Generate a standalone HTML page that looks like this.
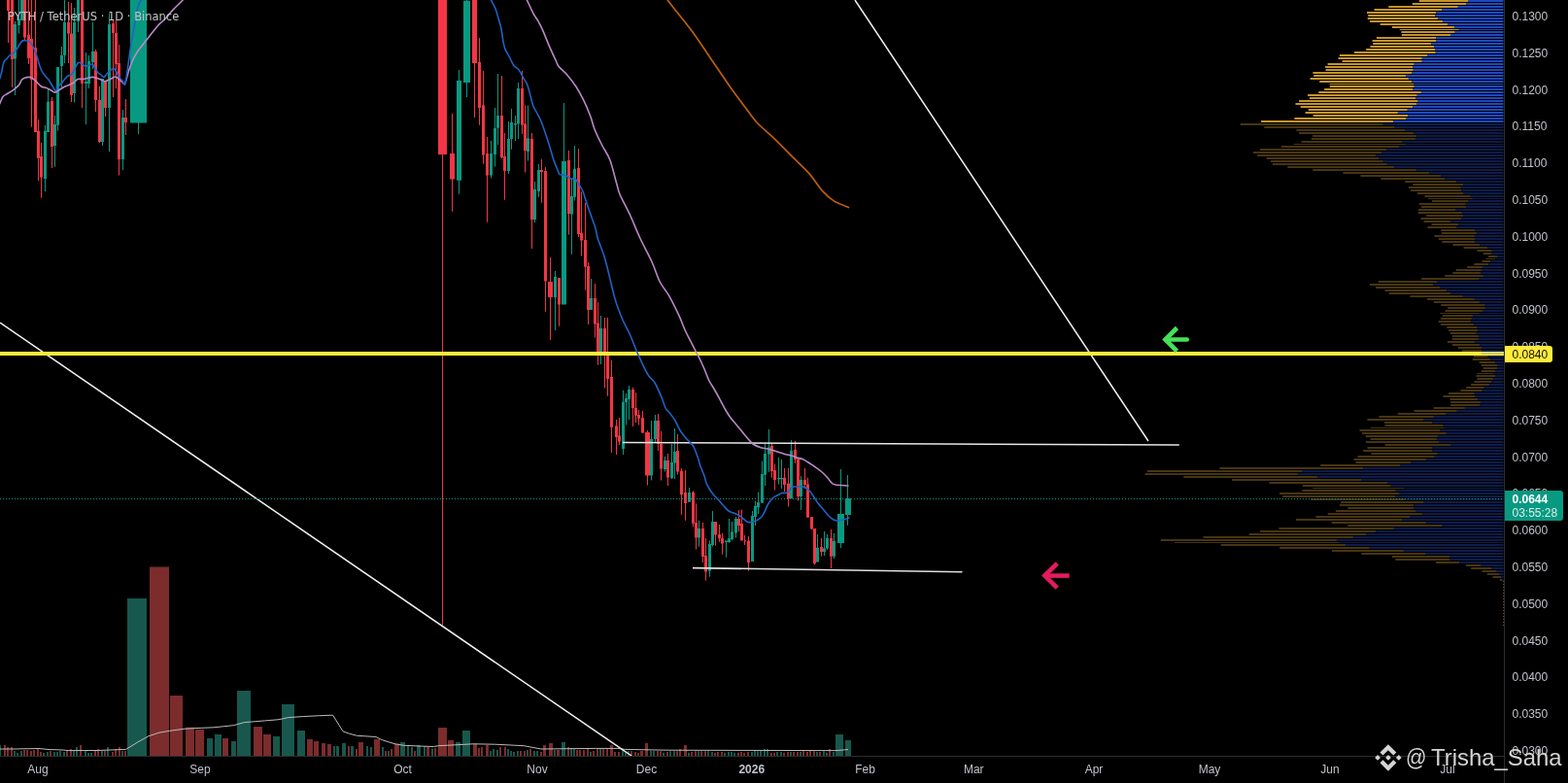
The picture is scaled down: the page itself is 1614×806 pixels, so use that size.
<!DOCTYPE html>
<html><head><meta charset="utf-8"><title>PYTH / TetherUS chart</title>
<style>
html,body{margin:0;padding:0;background:#000;}
body{width:1614px;height:806px;overflow:hidden;position:relative;font-family:"Liberation Sans",Arial,sans-serif;}
svg.chart{position:absolute;left:0;top:0;display:block;}
.title{position:absolute;left:8px;top:9px;font-family:"DejaVu Sans","Liberation Sans",sans-serif;font-size:11.5px;line-height:16px;color:#c4c4c8;white-space:nowrap;}
.pl{position:absolute;left:1556.5px;font-size:12px;line-height:14px;color:#c0c3ca;white-space:nowrap;}
.yl{position:absolute;left:1548.5px;top:356.3px;width:49px;height:16.6px;background:#ffeb3b;border-radius:0 3px 3px 0;color:#111;font-size:12px;line-height:18px;text-indent:8px;}
.gl{position:absolute;left:1548.5px;top:505px;width:60.5px;height:30.7px;background:#089981;border-radius:0 3px 3px 0;color:#fff;}
.g1{position:absolute;left:8px;top:2px;font-size:12px;line-height:14px;font-weight:bold;}
.g2{position:absolute;left:8px;top:16px;font-size:12px;line-height:14px;color:#d8efe9;}
.tl{position:absolute;top:784.5px;width:60px;text-align:center;font-size:12px;line-height:14px;color:#c0c3ca;}
.tl.b{font-weight:bold;font-size:12px;}
.logo{position:absolute;left:1414px;top:765px;}
.wat{position:absolute;left:1447px;top:766px;font-size:23px;line-height:28px;color:#d4d4d4;transform:scaleX(0.92);transform-origin:0 0;}
.wt{position:absolute;left:1472.5px;top:766px;font-size:24px;line-height:28px;color:#d4d4d4;white-space:nowrap;transform:scaleX(0.995);transform-origin:0 0;}
</style></head>
<body>
<svg class="chart" width="1614" height="806" viewBox="0 0 1614 806" shape-rendering="auto">
<path d="M1460.8 0H1511.6v2H1460.8zM1453.8 3H1509.4v2H1453.8zM1429.3 6H1500.8v2H1429.3zM1414.5 9H1484.4v2H1414.5zM1407 12H1478.4v2H1407zM1408.2 15H1477.4v2H1408.2zM1407.7 18H1480v2H1407.7zM1410.1 21H1485.1v2H1410.1zM1420.7 24H1490.1v2H1420.7zM1432.8 27H1497.1v2H1432.8zM1440.8 30H1501.8v1H1440.8zM1442.4 32H1497.7v2H1442.4zM1442.8 35H1493v2H1442.8zM1416.9 38H1478.3v2H1416.9zM1412.6 41H1478.5v2H1412.6zM1413.2 44H1473.3v2H1413.2zM1410.5 47H1476.1v2H1410.5zM1406.2 50H1477v2H1406.2zM1394 53H1477.8v2H1394zM1378.9 56H1469.6v2H1378.9zM1377.5 59H1463.8v2H1377.5zM1381.6 62H1463.8v2H1381.6zM1366.6 65H1455.7v2H1366.6zM1364.1 68H1454.5v2H1364.1zM1364.6 71H1454.8v2H1364.6zM1351.4 74H1453.5v2H1351.4zM1352.2 77H1447.2v2H1352.2zM1348.6 80H1449.9v2H1348.6zM1358.3 83H1453.4v2H1358.3zM1368.6 86H1455.6v1H1368.6zM1368.9 88H1455.8v2H1368.9zM1363.2 91H1454.5v2H1363.2zM1357.3 94H1462.9v2H1357.3zM1346.1 97H1458.8v2H1346.1zM1347.9 100H1457.5v2H1347.9zM1337.1 103H1459.6v2H1337.1zM1333.5 106H1458v2H1333.5zM1338.7 109H1454.2v2H1338.7zM1346.7 112H1448.8v2H1346.7zM1343.6 115H1438.9v2H1343.6zM1351.7 118H1449.4v2H1351.7zM1332.4 121H1447.6v2H1332.4zM1298.1 124H1434.4v2H1298.1z" fill="#c4942b"/>
<path d="M1511.6 0H1547.5v2H1511.6zM1509.4 3H1547.5v2H1509.4zM1500.8 6H1547.5v2H1500.8zM1484.4 9H1547.5v2H1484.4zM1478.4 12H1547.5v2H1478.4zM1477.4 15H1547.5v2H1477.4zM1480 18H1547.5v2H1480zM1485.1 21H1547.5v2H1485.1zM1490.1 24H1547.5v2H1490.1zM1497.1 27H1547.5v2H1497.1zM1501.8 30H1547.5v1H1501.8zM1497.7 32H1547.5v2H1497.7zM1493 35H1547.5v2H1493zM1478.3 38H1547.5v2H1478.3zM1478.5 41H1547.5v2H1478.5zM1473.3 44H1547.5v2H1473.3zM1476.1 47H1547.5v2H1476.1zM1477 50H1547.5v2H1477zM1477.8 53H1547.5v2H1477.8zM1469.6 56H1547.5v2H1469.6zM1463.8 59H1547.5v2H1463.8zM1463.8 62H1547.5v2H1463.8zM1455.7 65H1547.5v2H1455.7zM1454.5 68H1547.5v2H1454.5zM1454.8 71H1547.5v2H1454.8zM1453.5 74H1547.5v2H1453.5zM1447.2 77H1547.5v2H1447.2zM1449.9 80H1547.5v2H1449.9zM1453.4 83H1547.5v2H1453.4zM1455.6 86H1547.5v1H1455.6zM1455.8 88H1547.5v2H1455.8zM1454.5 91H1547.5v2H1454.5zM1462.9 94H1547.5v2H1462.9zM1458.8 97H1547.5v2H1458.8zM1457.5 100H1547.5v2H1457.5zM1459.6 103H1547.5v2H1459.6zM1458 106H1547.5v2H1458zM1454.2 109H1547.5v2H1454.2zM1448.8 112H1547.5v2H1448.8zM1438.9 115H1547.5v2H1438.9zM1449.4 118H1547.5v2H1449.4zM1447.6 121H1547.5v2H1447.6zM1434.4 124H1547.5v2H1434.4z" fill="#1e48c0"/>
<path d="M1276.8 127H1423.8v2H1276.8zM1301.2 130H1435.7v2H1301.2zM1334.4 133H1446v2H1334.4zM1337.1 136H1455.2v2H1337.1zM1351.1 139H1458.4v2H1351.1zM1349.9 142H1456.9v2H1349.9zM1339.6 145H1443.5v2H1339.6zM1331.6 148H1447.5v1H1331.6zM1319 150H1440.6v2H1319zM1297 153H1427.5v2H1297zM1290 156H1422v2H1290zM1294.2 159H1416.5v2H1294.2zM1303.7 162H1419.7v2H1303.7zM1308 165H1423.8v2H1308zM1309.9 168H1427.8v2H1309.9zM1325.4 171H1435.1v2H1325.4zM1351.2 174H1457.9v2H1351.2zM1382.4 177H1471.2v2H1382.4zM1400.4 180H1483.4v2H1400.4zM1421.5 183H1487.2v2H1421.5zM1446.3 186H1499.3v2H1446.3zM1454.3 189H1506.5v2H1454.3zM1449.9 192H1503.8v2H1449.9zM1451.9 195H1504v2H1451.9zM1458.9 198H1506.6v2H1458.9zM1466.4 201H1513.8v2H1466.4zM1469.9 204H1516.2v1H1469.9zM1474 206H1511v2H1474zM1460.8 209H1508.8v2H1460.8zM1463 212H1509.4v2H1463zM1460 215H1498v2H1460zM1459.9 218H1504.9v2H1459.9zM1468.2 221H1506.5v2H1468.2zM1462.4 224H1504v2H1462.4zM1465.6 227H1493.6v2H1465.6zM1473.5 230H1501.5v2H1473.5zM1469.4 233H1499v2H1469.4zM1483.1 236H1518v2H1483.1zM1483.8 239H1520.2v2H1483.8zM1476.5 242H1517.9v2H1476.5zM1480.8 245H1518.6v2H1480.8zM1484.4 248H1518v2H1484.4zM1495.5 251H1523.2v2H1495.5zM1506.6 254H1531.2v2H1506.6zM1520.6 257H1535.8v2H1520.6zM1526.7 260H1535v2H1526.7zM1531.9 263H1541v2H1531.9zM1529.5 266H1539.2v1H1529.5zM1525.5 268H1534.4v2H1525.5zM1517.4 271H1532.2v2H1517.4zM1510.3 274H1525.9v2H1510.3zM1498.7 277H1524.9v2H1498.7zM1495.2 280H1524.4v2H1495.2zM1487.2 283H1526.9v2H1487.2zM1463.1 286H1522.7v2H1463.1zM1418.8 289H1479v2H1418.8zM1410 292H1475.4v2H1410zM1416 295H1482.5v2H1416zM1425.6 298H1489.3v2H1425.6zM1430 301H1493.2v2H1430zM1451.5 304H1505.8v2H1451.5zM1469.2 307H1517.8v2H1469.2zM1475.9 310H1523.2v2H1475.9zM1483.2 313H1528.7v2H1483.2zM1490.1 316H1528.9v2H1490.1zM1487.6 319H1526.1v2H1487.6zM1482.3 322H1522.6v1H1482.3zM1484.8 324H1516.6v2H1484.8zM1482.8 327H1514.9v2H1482.8zM1480.7 330H1514.3v2H1480.7zM1482.9 333H1517.1v2H1482.9zM1489.2 336H1520.7v2H1489.2zM1491.1 339H1521.2v2H1491.1zM1492.8 342H1519.9v2H1492.8zM1494.8 345H1522.6v2H1494.8zM1494.7 348H1521.9v2H1494.7zM1489.9 351H1517.9v2H1489.9zM1495 354H1523.2v2H1495zM1500.8 357H1525.5v2H1500.8zM1504.9 360H1525.4v2H1504.9zM1511 363H1528.5v2H1511zM1516.7 366H1531.8v2H1516.7zM1515.8 369H1534.2v2H1515.8zM1522.7 372H1539.5v2H1522.7zM1524.7 375H1541.7v2H1524.7zM1526.7 378H1541v2H1526.7zM1524.8 381H1539.4v2H1524.8zM1520.3 384H1537.8v1H1520.3zM1519.6 386H1539v2H1519.6zM1520.4 389H1537.2v2H1520.4zM1517.4 392H1535.4v2H1517.4zM1514.1 395H1533.2v2H1514.1zM1509.3 398H1527.7v2H1509.3zM1503.4 401H1525.7v2H1503.4zM1491.1 404H1517.8v2H1491.1zM1485.5 407H1518v2H1485.5zM1492.6 410H1521.1v2H1492.6zM1493.1 413H1524.6v2H1493.1zM1493.1 416H1523.6v2H1493.1zM1475.5 419H1507.9v2H1475.5zM1455.6 422H1499.8v2H1455.6zM1438.7 425H1488.8v2H1438.7zM1419.3 428H1475.9v2H1419.3zM1407.4 431H1465.7v2H1407.4zM1424.9 434H1474.5v2H1424.9zM1425.5 437H1485.8v2H1425.5zM1410.8 440H1486.7v1H1410.8zM1399.5 442H1482.6v2H1399.5zM1402 445H1488.8v2H1402zM1405.7 448H1480v2H1405.7zM1410.6 451H1478.9v2H1410.6zM1405.9 454H1481v2H1405.9zM1425.5 457H1493.6v2H1425.5zM1407.6 460H1474v2H1407.6zM1403.1 463H1474.6v2H1403.1zM1411.5 466H1479.8v2H1411.5zM1397.5 469H1476.8v2H1397.5zM1393.5 472H1468.3v2H1393.5zM1395.5 475H1452v2H1395.5zM1359.2 478H1441.1v2H1359.2zM1255.4 481H1403.4v2H1255.4zM1181.1 484H1340v2H1181.1zM1178.6 487H1335.8v2H1178.6zM1218.3 490H1356.4v2H1218.3zM1268.1 493H1401.1v2H1268.1zM1306.5 496H1428.2v2H1306.5zM1340.8 499H1431.7v2H1340.8zM1351 502H1445.4v1H1351zM1340.4 504H1436.8v2H1340.4zM1317.1 507H1440.8v2H1317.1zM1320.3 510H1436.2v2H1320.3zM1349.2 513H1446.1v2H1349.2zM1380.2 516H1465.6v2H1380.2zM1378.9 519H1455.4v2H1378.9zM1387.3 522H1455.2v2H1387.3zM1374.9 525H1457.5v2H1374.9zM1366.7 528H1464.3v2H1366.7zM1354.4 531H1451v2H1354.4zM1333.9 534H1443.4v2H1333.9zM1370.7 537H1468.2v2H1370.7zM1387.3 540H1484v2H1387.3zM1316.4 543H1434.8v2H1316.4zM1297.1 546H1416.2v2H1297.1zM1285.7 549H1406v2H1285.7zM1238.6 552H1393.4v2H1238.6zM1194.7 555H1375.9v2H1194.7zM1209.1 558H1378v1H1209.1zM1256.7 560H1385v2H1256.7zM1317.1 563H1409.8v2H1317.1zM1370.9 566H1445.4v2H1370.9zM1401.4 569H1467.7v2H1401.4zM1432.9 572H1492.5v2H1432.9zM1436.3 575H1492.5v2H1436.3zM1478 578H1502.4v2H1478zM1508.9 581H1524.5v2H1508.9zM1514.1 584H1535.5v2H1514.1zM1525.7 587H1540.7v2H1525.7zM1530.7 590H1543v2H1530.7zM1536.4 593H1545.2v2H1536.4zM1544 596H1546.7v2H1544z" fill="#473511"/>
<path d="M1423.8 127H1547.5v2H1423.8zM1435.7 130H1547.5v2H1435.7zM1446 133H1547.5v2H1446zM1455.2 136H1547.5v2H1455.2zM1458.4 139H1547.5v2H1458.4zM1456.9 142H1547.5v2H1456.9zM1443.5 145H1547.5v2H1443.5zM1447.5 148H1547.5v1H1447.5zM1440.6 150H1547.5v2H1440.6zM1427.5 153H1547.5v2H1427.5zM1422 156H1547.5v2H1422zM1416.5 159H1547.5v2H1416.5zM1419.7 162H1547.5v2H1419.7zM1423.8 165H1547.5v2H1423.8zM1427.8 168H1547.5v2H1427.8zM1435.1 171H1547.5v2H1435.1zM1457.9 174H1547.5v2H1457.9zM1471.2 177H1547.5v2H1471.2zM1483.4 180H1547.5v2H1483.4zM1487.2 183H1547.5v2H1487.2zM1499.3 186H1547.5v2H1499.3zM1506.5 189H1547.5v2H1506.5zM1503.8 192H1547.5v2H1503.8zM1504 195H1547.5v2H1504zM1506.6 198H1547.5v2H1506.6zM1513.8 201H1547.5v2H1513.8zM1516.2 204H1547.5v1H1516.2zM1511 206H1547.5v2H1511zM1508.8 209H1547.5v2H1508.8zM1509.4 212H1547.5v2H1509.4zM1498 215H1547.5v2H1498zM1504.9 218H1547.5v2H1504.9zM1506.5 221H1547.5v2H1506.5zM1504 224H1547.5v2H1504zM1493.6 227H1547.5v2H1493.6zM1501.5 230H1547.5v2H1501.5zM1499 233H1547.5v2H1499zM1518 236H1547.5v2H1518zM1520.2 239H1547.5v2H1520.2zM1517.9 242H1547.5v2H1517.9zM1518.6 245H1547.5v2H1518.6zM1518 248H1547.5v2H1518zM1523.2 251H1547.5v2H1523.2zM1531.2 254H1547.5v2H1531.2zM1535.8 257H1547.5v2H1535.8zM1535 260H1547.5v2H1535zM1541 263H1547.5v2H1541zM1539.2 266H1547.5v1H1539.2zM1534.4 268H1547.5v2H1534.4zM1532.2 271H1547.5v2H1532.2zM1525.9 274H1547.5v2H1525.9zM1524.9 277H1547.5v2H1524.9zM1524.4 280H1547.5v2H1524.4zM1526.9 283H1547.5v2H1526.9zM1522.7 286H1547.5v2H1522.7zM1479 289H1547.5v2H1479zM1475.4 292H1547.5v2H1475.4zM1482.5 295H1547.5v2H1482.5zM1489.3 298H1547.5v2H1489.3zM1493.2 301H1547.5v2H1493.2zM1505.8 304H1547.5v2H1505.8zM1517.8 307H1547.5v2H1517.8zM1523.2 310H1547.5v2H1523.2zM1528.7 313H1547.5v2H1528.7zM1528.9 316H1547.5v2H1528.9zM1526.1 319H1547.5v2H1526.1zM1522.6 322H1547.5v1H1522.6zM1516.6 324H1547.5v2H1516.6zM1514.9 327H1547.5v2H1514.9zM1514.3 330H1547.5v2H1514.3zM1517.1 333H1547.5v2H1517.1zM1520.7 336H1547.5v2H1520.7zM1521.2 339H1547.5v2H1521.2zM1519.9 342H1547.5v2H1519.9zM1522.6 345H1547.5v2H1522.6zM1521.9 348H1547.5v2H1521.9zM1517.9 351H1547.5v2H1517.9zM1523.2 354H1547.5v2H1523.2zM1525.5 357H1547.5v2H1525.5zM1525.4 360H1547.5v2H1525.4zM1528.5 363H1547.5v2H1528.5zM1531.8 366H1547.5v2H1531.8zM1534.2 369H1547.5v2H1534.2zM1539.5 372H1547.5v2H1539.5zM1541.7 375H1547.5v2H1541.7zM1541 378H1547.5v2H1541zM1539.4 381H1547.5v2H1539.4zM1537.8 384H1547.5v1H1537.8zM1539 386H1547.5v2H1539zM1537.2 389H1547.5v2H1537.2zM1535.4 392H1547.5v2H1535.4zM1533.2 395H1547.5v2H1533.2zM1527.7 398H1547.5v2H1527.7zM1525.7 401H1547.5v2H1525.7zM1517.8 404H1547.5v2H1517.8zM1518 407H1547.5v2H1518zM1521.1 410H1547.5v2H1521.1zM1524.6 413H1547.5v2H1524.6zM1523.6 416H1547.5v2H1523.6zM1507.9 419H1547.5v2H1507.9zM1499.8 422H1547.5v2H1499.8zM1488.8 425H1547.5v2H1488.8zM1475.9 428H1547.5v2H1475.9zM1465.7 431H1547.5v2H1465.7zM1474.5 434H1547.5v2H1474.5zM1485.8 437H1547.5v2H1485.8zM1486.7 440H1547.5v1H1486.7zM1482.6 442H1547.5v2H1482.6zM1488.8 445H1547.5v2H1488.8zM1480 448H1547.5v2H1480zM1478.9 451H1547.5v2H1478.9zM1481 454H1547.5v2H1481zM1493.6 457H1547.5v2H1493.6zM1474 460H1547.5v2H1474zM1474.6 463H1547.5v2H1474.6zM1479.8 466H1547.5v2H1479.8zM1476.8 469H1547.5v2H1476.8zM1468.3 472H1547.5v2H1468.3zM1452 475H1547.5v2H1452zM1441.1 478H1547.5v2H1441.1zM1403.4 481H1547.5v2H1403.4zM1340 484H1547.5v2H1340zM1335.8 487H1547.5v2H1335.8zM1356.4 490H1547.5v2H1356.4zM1401.1 493H1547.5v2H1401.1zM1428.2 496H1547.5v2H1428.2zM1431.7 499H1547.5v2H1431.7zM1445.4 502H1547.5v1H1445.4zM1436.8 504H1547.5v2H1436.8zM1440.8 507H1547.5v2H1440.8zM1436.2 510H1547.5v2H1436.2zM1446.1 513H1547.5v2H1446.1zM1465.6 516H1547.5v2H1465.6zM1455.4 519H1547.5v2H1455.4zM1455.2 522H1547.5v2H1455.2zM1457.5 525H1547.5v2H1457.5zM1464.3 528H1547.5v2H1464.3zM1451 531H1547.5v2H1451zM1443.4 534H1547.5v2H1443.4zM1468.2 537H1547.5v2H1468.2zM1484 540H1547.5v2H1484zM1434.8 543H1547.5v2H1434.8zM1416.2 546H1547.5v2H1416.2zM1406 549H1547.5v2H1406zM1393.4 552H1547.5v2H1393.4zM1375.9 555H1547.5v2H1375.9zM1378 558H1547.5v1H1378zM1385 560H1547.5v2H1385zM1409.8 563H1547.5v2H1409.8zM1445.4 566H1547.5v2H1445.4zM1467.7 569H1547.5v2H1467.7zM1492.5 572H1547.5v2H1492.5zM1492.5 575H1547.5v2H1492.5zM1502.4 578H1547.5v2H1502.4zM1524.5 581H1547.5v2H1524.5zM1535.5 584H1547.5v2H1535.5zM1540.7 587H1547.5v2H1540.7zM1543 590H1547.5v2H1543zM1545.2 593H1547.5v2H1545.2zM1546.7 596H1547.5v2H1546.7z" fill="#0d1c4a"/>
<path d="M-1 767h2V778h-2zM14 773h2V778h-2zM17 775h2V778h-2zM21 773h2V778h-2zM44 775h2V778h-2zM48 774h2V778h-2zM55 774h2V778h-2zM58 774h2V778h-2zM61 773h2V778h-2zM65 774h2V778h-2zM75 773h2V778h-2zM78 769h2V778h-2zM87 773h2V778h-2zM90 775h2V778h-2zM93 775h2V778h-2zM104 773h2V778h-2zM110 769h2V778h-2zM125 773h2V778h-2zM131 615.9h20V778h-20zM213 760h6V778h-6zM221 756h7V778h-7zM238 763h5V778h-5zM244 711h14V778h-14zM281 758h7V778h-7zM290 725h13V778h-13zM306 752h8V778h-8zM343 768h2V778h-2zM346 768h3V778h-3zM352 765h4V778h-4zM361 768h3V778h-3zM377 768h2V778h-2zM381 769h2V778h-2zM393 769h2V778h-2zM399 773h2V778h-2zM412 764h5V778h-5zM419 768h2V778h-2zM423 769h2V778h-2zM429 767h4V778h-4zM436 768h2V778h-2zM444 770.5h2V778h-2zM469 764h5V778h-5zM476 752h8V778h-8zM504 773h2V778h-2zM507 771h2V778h-2zM511 772h2V778h-2zM522 771h2V778h-2zM525 773h2V778h-2zM528 774h2V778h-2zM532 773h2V778h-2zM542 772h2V778h-2zM549 773h2V778h-2zM552 773h2V778h-2zM570 772h2V778h-2zM578 764h4V778h-4zM587 770h2V778h-2zM590 771h2V778h-2zM607 774h2V778h-2zM617 771h2V778h-2zM640 771h2V778h-2zM643 774h2V778h-2zM646 773h2V778h-2zM669 773h2V778h-2zM672 773h2V778h-2zM682 774.8h2V778h-2zM689 773.2h2V778h-2zM693 773.2h2V778h-2zM708 774.8h2V778h-2zM718 773.2h2V778h-2zM728 773.2h2V778h-2zM732 774.1h2V778h-2zM745 774.8h2V778h-2zM749 774.1h2V778h-2zM752 774.1h2V778h-2zM755 774.8h2V778h-2zM773 774.1h2V778h-2zM776 772.1h2V778h-2zM779 773.2h2V778h-2zM782 772.1h2V778h-2zM786 771.1h2V778h-2zM789 771.1h2V778h-2zM799 774.1h2V778h-2zM803 774.1h2V778h-2zM813 774.1h2V778h-2zM823 774.1h2V778h-2zM840 774.1h2V778h-2zM847 773.2h2V778h-2zM850 774.8h2V778h-2zM857 774.1h2V778h-2zM860 756h8V778h-8zM870 762h6V778h-6z" fill="#18574d"/>
<path d="M4 767h2V778h-2zM7 769h2V778h-2zM11 769h2V778h-2zM24 772h2V778h-2zM27 772h2V778h-2zM31 773h2V778h-2zM34 772h2V778h-2zM38 771h2V778h-2zM41 774h2V778h-2zM51 773h2V778h-2zM68 773h2V778h-2zM72 771h2V778h-2zM82 767h2V778h-2zM97 772h2V778h-2zM100 771h2V778h-2zM107 773h2V778h-2zM115 774h2V778h-2zM118 771h2V778h-2zM122 769h2V778h-2zM128 773h2V778h-2zM154 583.6h20V778h-20zM175 716h13V778h-13zM191 748.8h9V778h-9zM201 750.7h9V778h-9zM229 760h6V778h-6zM261 748h9V778h-9zM271 756h8V778h-8zM316 760.9h6V778h-6zM323 763h5V778h-5zM331 765h4V778h-4zM337 766h4V778h-4zM358 768h2V778h-2zM366 771h2V778h-2zM369 764h5V778h-5zM385 761h6V778h-6zM396 773h2V778h-2zM402 771h2V778h-2zM406 765.7h5V778h-5zM426 773h2V778h-2zM439 769h3V778h-3zM447 770h2V778h-2zM451 749.1h9V778h-9zM461 762h6V778h-6zM487 765.5h4V778h-4zM492 770h2V778h-2zM495 769h2V778h-2zM500 767h3V778h-3zM514 769h2V778h-2zM519 769h2V778h-2zM535 773h2V778h-2zM539 773h2V778h-2zM545 771h2V778h-2zM556 774h2V778h-2zM559 767h3V778h-3zM565 765h4V778h-4zM573 772h3V778h-3zM584 769h2V778h-2zM593 772h2V778h-2zM596 772h2V778h-2zM600 772h2V778h-2zM604 771h2V778h-2zM610 773h2V778h-2zM614 771h2V778h-2zM620 771h2V778h-2zM624 771h2V778h-2zM628 767h3V778h-3zM632 774h2V778h-2zM636 774h2V778h-2zM649 773h2V778h-2zM653 774h2V778h-2zM656 775h2V778h-2zM659 773h3V778h-3zM664 765h3V778h-3zM676 773h2V778h-2zM679 773.2h2V778h-2zM686 774.1h2V778h-2zM696 773.2h2V778h-2zM699 771.1h2V778h-2zM704 767h3V778h-3zM711 774.1h2V778h-2zM715 773.2h2V778h-2zM721 773.2h2V778h-2zM725 773.2h2V778h-2zM735 774.8h2V778h-2zM738 774.1h2V778h-2zM742 774.1h2V778h-2zM759 774.8h2V778h-2zM762 774.1h2V778h-2zM765 774.8h2V778h-2zM769 774.1h2V778h-2zM793 774.8h2V778h-2zM796 774.8h2V778h-2zM806 774.8h2V778h-2zM810 774.1h2V778h-2zM816 774.1h2V778h-2zM820 774.1h2V778h-2zM826 773.2h2V778h-2zM830 774.1h2V778h-2zM833 772.1h2V778h-2zM837 773.2h2V778h-2zM843 774.1h2V778h-2zM853 771.1h2V778h-2z" fill="#7c2c2c"/>
<polyline points="0,771 13,771 40,770.5 50,771.5 65,772 70,772.6 100,772.5 129.6,771.4 142,763.8 152.8,757.8 163.8,754.2 174.7,752.3 191,750.1 207.4,749.3 220,748.8 240.3,746.7 251.5,743.6 272.5,741.9 287,740.7 296.7,738.6 312.8,737.5 328.9,736.7 342.6,736.2 353,752.8 359.5,755.2 367.5,757.3 386.9,758.5 393.3,761.7 406.2,765.7 415.9,767.3 433.6,768.1 446.5,768.5 452,767.6 464.9,767 487.2,765.8 509.5,766.2 539.2,767.7 557,771 583.8,770.7 613.6,770.4 635.9,770.4 643.3,771.4 688,772.2 760,772.4 860,772.6 868,772 873,771.5" fill="none" stroke="#bcbcbc" stroke-width="1" stroke-linejoin="round"/>
<path d="M15 22h1V98h-1zM19 -5h1V34.5h-1zM22 -5h1V21h-1zM46 128.7h1V197h-1zM49 91h1V136h-1zM56 119h1V171.7h-1zM59 69h1V134.8h-1zM63 48h1V90h-1zM66 -5h1V65h-1zM76 8h1V105.5h-1zM80 -5h1V33h-1zM88 54h1V128h-1zM91 57h1V91h-1zM95 23h1V71h-1zM105 81h1V150h-1zM112 14h1V156h-1zM126 113h1V175h-1zM142 -5h1V138h-1zM472 72h1V199.8h-1zM480 -5h1V100h-1zM505 144.8h1V183.5h-1zM509 111h1V171.5h-1zM512 76h1V149h-1zM523 125h1V179h-1zM526 112h1V153.7h-1zM530 119h1V145h-1zM533 85h1V143h-1zM543 108.6h1V165.6h-1zM550 187h1V229h-1zM554 169h1V202.8h-1zM571 279h1V340h-1zM580 106h1V313.6h-1zM588 185h1V261.7h-1zM591 150h1V206.5h-1zM608 287h1V319h-1zM618 325h1V375h-1zM641 401.8h1V468h-1zM644 404.7h1V437.5h-1zM647 397h1V432h-1zM670 433h1V494.4h-1zM674 427h1V455.7h-1zM684 470h1V485.5h-1zM691 457h1V493h-1zM694 441h1V493h-1zM709 502h1V516.7h-1zM719 535.7h1V562.5h-1zM730 556.5h1V593.8h-1zM733 526h1V562.5h-1zM747 556.5h1V573.7h-1zM750 534h1V558.8h-1zM753 537h1V556.5h-1zM757 532h1V553.6h-1zM774 526h1V578h-1zM777 515.6h1V541h-1zM780 506.7h1V529h-1zM784 474.6h1V517.8h-1zM787 456.8h1V500h-1zM791 442h1V485.8h-1zM801 471h1V498.5h-1zM804 473h1V503h-1zM814 453h1V513.3h-1zM824 490h1V525h-1zM841 550h1V578.6h-1zM848 547h1V572h-1zM851 550h1V566h-1zM858 549h1V575h-1zM865 483h1V564h-1zM872 489h1V540.7h-1zM14 25h3v35.6h-3zM18 19.5h3v6.5h-3zM21 -5h3v26h-3zM45 134.8h3v49.2h-3zM48 104.8h3v31.2h-3zM55 128h3v22h-3zM58 69h3v59.7h-3zM62 57h3v11h-3zM65 23h3v34h-3zM75 23h3v73h-3zM79 -5h3v27h-3zM87 84h3v2h-3zM90 63h3v23h-3zM94 53h3v11h-3zM104 81h3v65h-3zM111 25h3v86h-3zM125 121h3v43h-3zM134 -5h17v131.6h-17zM470 83h5v102.7h-5zM477 0.7h7v84.3h-7zM504 158h3v22.5h-3zM508 132h3v27h-3zM511 119h3v12.7h-3zM522 143h3v33h-3zM525 126h3v17h-3zM529 127h3v1.5h-3zM532 91h3v36.6h-3zM542 142.5h3v13.5h-3zM549 195h3v31h-3zM553 175h3v22h-3zM570 285h3v21h-3zM578 166h5v147.6h-5zM587 202h3v18.6h-3zM590 173.8h3v29h-3zM607 307h3v12h-3zM617 338h3v26h-3zM640 413.7h3v48.3h-3zM643 410h3v4h-3zM646 401h3v9.7h-3zM669 452h3v37.6h-3zM673 433h3v19h-3zM683 474h3v9h-3zM690 476h3v16h-3zM693 465h3v11.5h-3zM708 507h3v9.7h-3zM718 544h3v9.6h-3zM729 560h3v27.8h-3zM732 537h3v24h-3zM746 556.5h3v1.5h-3zM749 554.3h3v3.7h-3zM752 547.6h3v7.4h-3zM756 534h3v14.4h-3zM773 531h3v47h-3zM776 520.8h3v11.2h-3zM779 517h3v5.3h-3zM783 488h3v29.8h-3zM786 467h3v21.8h-3zM790 460.5h3v7h-3zM800 492h3v1.2h-3zM803 492h3v1.2h-3zM813 464h3v49.3h-3zM823 494h3v17h-3zM840 563.8h3v14.8h-3zM847 564.5h3v3.5h-3zM850 554h3v10.5h-3zM857 557h3v15.7h-3zM862 529h7v30h-7zM870 513h6v17h-6z" fill="#089981"/>
<path d="M8 -5h1V44h-1zM12 -5h1V90h-1zM25 -5h1V42h-1zM29 -5h1V66h-1zM32 -5h1V130.7h-1zM36 -5h1V136h-1zM39 123h1V186h-1zM42 147h1V203.8h-1zM53 100h1V173h-1zM70 2h1V65h-1zM73 3h1V105h-1zM84 -5h1V111h-1zM98 51h1V115h-1zM102 89h1V147h-1zM108 83h1V120h-1zM116 20h1V100h-1zM119 21h1V91h-1zM122 46h1V180.5h-1zM129 102h1V139h-1zM455 -5h1V643.8h-1zM465 117h1V217.7h-1zM488 -5h1V121h-1zM493 39h1V128.7h-1zM497 73h1V168.6h-1zM501 141h1V228.8h-1zM516 78h1V163h-1zM519 137h1V205.8h-1zM537 73h1V138h-1zM540 108.6h1V177.5h-1zM547 137h1V256h-1zM557 164h1V208.8h-1zM561 172h1V320.8h-1zM566 265h1V350h-1zM575 286h1V335.7h-1zM585 155h1V241.6h-1zM595 153h1V244h-1zM598 197.6h1V263.5h-1zM602 208.8h1V298.8h-1zM605 270h1V334h-1zM612 292h1V347.6h-1zM615 311h1V375.7h-1zM622 327h1V399.5h-1zM625 327h1V407.7h-1zM629 371h1V466h-1zM634 432h1V468h-1zM637 430h1V458h-1zM651 398.8h1V439h-1zM654 404h1V435h-1zM657 421.8h1V437.5h-1zM661 423h1V446h-1zM666 443h1V499.6h-1zM677 426h1V464h-1zM680 443.8h1V494.4h-1zM687 467h1V500h-1zM697 447h1V488.5h-1zM701 482h1V530h-1zM705 484h1V535.7h-1zM713 505.5h1V542.4h-1zM716 518.6h1V565.5h-1zM723 538h1V579h-1zM726 554h1V597.5h-1zM736 537h1V561.8h-1zM740 540h1V558h-1zM743 549h1V570.7h-1zM760 525h1V547h-1zM763 524.5h1V556.5h-1zM766 551h1V561h-1zM770 552h1V587.8h-1zM794 456.8h1V491.8h-1zM797 477.6h1V504.4h-1zM807 482h1V506h-1zM811 481.8h1V521.5h-1zM818 453.8h1V476.9h-1zM821 472h1V515.6h-1zM828 482h1V503h-1zM831 491.8h1V532.7h-1zM835 532h1V545h-1zM838 544h1V581.6h-1zM845 554h1V572.7h-1zM855 545h1V585h-1zM7 -5h3v16h-3zM11 -5h3v66h-3zM24 -5h3v43.4h-3zM28 35.7h3v24.3h-3zM31 40h3v42.3h-3zM35 49h3v87h-3zM38 134.8h3v28h-3zM41 161h3v21.6h-3zM52 104h3v47h-3zM69 23h3v11.5h-3zM72 34.5h3v63.5h-3zM83 -5h3v91h-3zM97 53h3v50h-3zM101 103h3v43h-3zM107 83h3v28h-3zM115 24h3v10h-3zM118 34h3v32h-3zM121 65h3v99h-3zM128 121h3v5h-3zM451 -5h9v163.9h-9zM463 158h5v26.6h-5zM486 -5h5v70h-5zM492 64h3v47h-3zM496 108.6h3v51h-3zM500 158h3v22.5h-3zM515 119h3v43h-3zM518 161h3v15h-3zM536 91h3v37.4h-3zM539 127.6h3v27.4h-3zM546 143h3v83h-3zM556 175h3v2h-3zM560 176h3v113.5h-3zM564 290h5v16h-5zM574 286h3v27.6h-3zM584 165h3v55h-3zM594 173h3v68h-3zM597 239.7h3v7.9h-3zM601 247h3v27.6h-3zM604 274h3v45h-3zM611 307h3v26.4h-3zM614 332.7h3v31.3h-3zM621 338h3v26h-3zM624 362h3v28h-3zM628 388h3v51.7h-3zM633 438.5h3v11.5h-3zM636 448.6h3v6h-3zM650 401h3v19h-3zM653 420h3v7.8h-3zM656 427h3v3.8h-3zM660 430h3v15.5h-3zM664 445h5v44.6h-5zM676 433h3v24h-3zM679 457h3v25.5h-3zM686 474h3v17.4h-3zM696 464h3v21.5h-3zM700 484.7h3v24.3h-3zM704 507h3v10.9h-3zM712 506.7h3v32h-3zM715 538h3v15.6h-3zM722 544h3v29h-3zM725 572h3v16.5h-3zM735 537h3v13.6h-3zM739 550h3v4.3h-3zM742 554.3h3v5.2h-3zM759 534h3v7h-3zM762 539h3v17.5h-3zM766 556h2v1.2h-2zM769 556.5h3v22.4h-3zM793 459h3v26h-3zM796 484h3v10h-3zM806 491.8h3v7.2h-3zM810 497.7h3v15.6h-3zM817 463h3v10h-3zM820 472.4h3v38.6h-3zM827 494h3v5h-3zM830 498.5h3v34.2h-3zM834 532h3v12.4h-3zM837 544h3v36h-3zM844 563h3v5h-3zM854 554h3v18.7h-3z" fill="#f23645"/>
<line x1="0" y1="332.2" x2="650" y2="778" stroke="#f0f0f0" stroke-width="1.5"/>
<line x1="880" y1="0" x2="1182" y2="454" stroke="#f0f0f0" stroke-width="1.5"/>
<line x1="641" y1="455.5" x2="1213.8" y2="458.1" stroke="#e6e6e6" stroke-width="1.5"/>
<line x1="713" y1="584.6" x2="990.5" y2="588.7" stroke="#e0e0e0" stroke-width="1.6"/>
<line x1="0" y1="513.5" x2="1548" y2="513.5" stroke="#089981" stroke-width="1" stroke-dasharray="1,2"/>
<rect x="0" y="362" width="1548" height="4" fill="#ffeb3b"/>
<rect x="1525" y="363" width="23" height="2" fill="#c9c87c"/>
<path d="M-2 110C-1.7 109.4 -0.8 108 0 106.2C0.8 104.5 1.8 101.1 3 99.5C4.2 97.9 5.7 97.6 7.4 96.5C9.1 95.4 11.4 94.3 13.4 92.8C15.4 91.3 17.9 89.3 19.4 87.6C20.9 85.8 21.2 83.5 22.3 82.3C23.4 81 24.8 80.6 26 80.1C27.2 79.6 28.7 79.4 29.8 79.4C30.9 79.4 31.6 79.4 32.8 80.1C34 80.8 35.6 82.3 37.2 83.8C38.8 85.3 40.6 87.9 42.4 89C44.1 90.1 46.1 89.9 47.7 90.5C49.3 91.1 50.8 92 52.1 92.8C53.5 93.5 54.8 94.7 55.8 95C56.8 95.3 57 95 58 94.5C59 94 60.5 92.9 62 92C63.5 91.1 65.3 89.8 67 89C68.7 88.2 70.5 87.7 72 87C73.5 86.3 74.7 85.9 76 85C77.3 84.1 78.5 82.1 80 81.5C81.5 80.9 83.3 81.7 85 81.5C86.7 81.3 88.3 80.8 90 80.5C91.7 80.2 93.3 79.4 95 79.4C96.7 79.4 98.3 80 100 80.5C101.7 81 103.7 82 105 82.5C106.3 83 107 83.7 108 83.7C109 83.7 109.8 83.1 111 82.6C112.2 82.1 113.7 81.3 115 80.7C116.3 80.1 117.7 78.8 119 79C120.3 79.2 122 81 123 81.8C124 82.6 124 83.1 125 83.7C126 84.3 127.5 87.3 128.7 85.6C129.9 83.8 131.2 76.9 132.4 73.2C133.6 69.5 134.6 66.7 136.1 63.3C137.6 59.9 139.2 56.4 141.7 52.7C144.2 49 147.6 45.3 151 41C154.4 36.7 159.1 30.2 162.2 26.7C165.3 23.2 166.9 22.6 169.6 19.8C172.3 17 175.2 13.2 178.3 9.9C181.4 6.6 185.4 3 188.2 0C191 -3 193.9 -6.7 195 -8" fill="none" stroke="#bb88c8" stroke-width="1.6" stroke-linejoin="round" stroke-linecap="round"/>
<path d="M538 -8C538.7 -6.7 540.5 -3.7 542.4 0C544.2 3.7 547.1 10.4 549.1 14.1C551.1 17.8 552.7 19.4 554.3 22.3C555.9 25.2 557 27.3 558.8 31.3C560.5 35.3 562.6 40.9 564.8 46.1C567 51.3 570.5 58.8 572.2 62.5C573.9 66.2 573.2 66 575.2 68.5C577.2 71 581.1 73.9 584.1 77.4C587.1 80.9 590.3 85.1 593 89.3C595.7 93.5 598 97.6 600.5 102.7C603 107.8 606 115 607.9 120C609.8 125 610 128 612 133C614 138 617.3 144.7 620 150C622.7 155.3 625.5 158.3 628 165C630.5 171.7 633.3 184.2 635 190C636.7 195.8 635.8 194.8 638 200C640.2 205.2 644.9 213.5 648.4 221C651.9 228.5 655 236.9 658.8 245C662.6 253.1 667.6 262 671 269.5C674.4 277 676.2 284.1 679.2 290C682.2 295.9 685.5 298.9 688.9 304.9C692.2 310.8 696.6 319.8 699.3 325.7C702 331.6 703.2 335.6 705.2 340C707.2 344.4 709.3 348.2 711.3 352C713.2 355.8 715.3 359.8 716.9 363C718.5 366.2 719.6 368 721 371C722.4 374 724 377.5 725.5 381C727 384.5 728.2 388.5 730 392C731.8 395.5 734 398.5 736 402C738 405.5 740 409.3 742 413C744 416.7 746.3 421.2 748 424C749.7 426.8 750.5 428 752 430C753.5 432 755.3 434 757 436C758.7 438 760.5 440.2 762 442C763.5 443.8 763.8 444.5 766 447C768.2 449.5 772 454.7 775 457C778 459.3 781.5 460.2 784 461C786.5 461.8 787.3 461.3 790 462C792.7 462.7 796.7 464 800 465C803.3 466 807.5 467.3 810 468C812.5 468.7 813.3 468.5 815 469C816.7 469.5 818.2 470.4 820 471C821.8 471.6 824 471.7 826 472.5C828 473.3 830 474.8 832 476C834 477.2 835.8 478.5 838 480C840.2 481.5 842.7 483 845 485C847.3 487 850.2 490 852 492C853.8 494 854.7 495.8 856 497C857.3 498.2 857.2 498.5 860 499C862.8 499.5 870.8 499.8 873 500" fill="none" stroke="#bb88c8" stroke-width="1.6" stroke-linejoin="round" stroke-linecap="round"/>
<path d="M-2 84C-1.7 83.3 -0.6 81.6 0 80.1C0.6 78.6 1 77 1.5 74.9C2 72.8 2.5 69.4 3 67.4C3.5 65.4 3.8 64.2 4.5 63C5.2 61.8 6.5 61 7.4 60C8.3 59 9.1 57.8 10 57C10.9 56.2 11.8 56 13 55C14.2 54 15.8 52.5 17 51C18.2 49.5 19 47.5 20 46C21 44.5 22.1 42.7 23 42C23.9 41.3 24.6 41.7 25.4 41.7C26.2 41.7 27.1 41.7 28 42C28.9 42.3 30 42.5 31 43.5C32 44.5 33 46.1 34 48C35 49.9 36 52.2 37 55C38 57.8 39 62 40 65C41 68 41.8 70.7 43 73C44.2 75.3 45.8 77.3 47 78.8C48.2 80.3 49 80.6 50 82C51 83.4 52 85.3 53 87C54 88.7 55.2 91 56 92C56.8 93 57.2 93.7 58 93C58.8 92.3 60 89.3 61 88C62 86.7 63 86.2 64 85C65 83.8 66 82.2 67 81C68 79.8 69 78.7 70 78C71 77.3 72 77.8 73 77C74 76.2 74.8 75.1 76 73C77.2 70.9 79 65.6 80.5 64.5C82 63.4 83.8 65.9 85 66.5C86.2 67.1 87 67.8 88 68C89 68.2 89.8 67.7 91 67.4C92.2 67.1 93.8 65.5 95 66C96.2 66.5 97 69.1 98 70.6C99 72.1 100 73.9 101 75C102 76.1 103 76.2 104 77C105 77.8 106 79.7 107 79.5C108 79.3 108.8 77.2 110 76C111.2 74.8 112.7 72.8 114 72C115.3 71.2 117 70.6 118 71C119 71.4 119 72.8 120 74.4C121 76 122.7 79.2 123.7 80.6C124.7 82 125.2 82 126 83C126.8 84 127.8 88.6 128.7 86.8C129.6 85 130.4 77.4 131.2 72C132 66.6 132.8 60.2 133.6 54.6C134.4 49 135.3 43.4 136.1 38.4C136.9 33.4 137.8 29.3 138.6 24.8C139.4 20.3 140.3 14.9 141.1 11.2C141.9 7.5 142.9 4.4 143.6 2.5C144.3 0.6 144.8 1.1 145.4 0C146 -1.1 146.7 -3.3 147 -4" fill="none" stroke="#2062c4" stroke-width="1.6" stroke-linejoin="round" stroke-linecap="round"/>
<path d="M503 -8C503.4 -6.7 504.3 -2.8 505.5 0C506.7 2.8 508.8 5.8 510 9C511.2 12.2 512 15.5 513 19C514 22.5 515.2 26 516 30C516.8 34 517.3 39.6 518 43C518.7 46.4 518.9 47.9 520 50.6C521.1 53.4 523.3 56.6 524.8 59.5C526.3 62.4 527.5 65.7 529 67.7C530.5 69.7 532.3 69.5 533.8 71.4C535.3 73.3 536.5 76.2 538 79C539.5 81.8 541.2 83.2 543 88C544.8 92.8 547 103.5 548.5 108C550 112.5 550.6 112.2 552 115C553.4 117.8 555 120 557 125C559 130 561.8 138.3 564 145C566.2 151.7 568.3 160 570 165C571.7 170 573 172.6 574 175C575 177.4 575.2 178.7 576 179.5C576.8 180.3 577.8 179.8 579 180C580.2 180.2 581.5 180.3 583 181C584.5 181.7 586.5 183.5 588 184C589.5 184.5 590.7 183 592 184C593.3 185 594.7 187.8 596 190C597.3 192.2 598.8 194.1 600 197C601.2 199.9 601.9 202.9 603.4 207.5C604.9 212.1 607.7 220 609.3 224.6C610.9 229.2 612 231.5 613 235C614 238.5 613.9 241 615.3 245.5C616.7 250 619.7 256.9 621.3 261.8C622.9 266.7 623.8 270.3 625 275C626.2 279.7 627.4 285 628.6 290C629.8 295 631.1 300.4 632.3 304.9C633.5 309.4 634.5 312.6 636 316.8C637.5 321 639.2 325.3 641.3 330C643.4 334.7 646.2 339.5 648.7 345C651.2 350.5 653 356.3 656 363C659 369.7 663.5 379.8 666.5 385C669.5 390.2 671.5 389.8 674 394C676.5 398.2 679.6 405.7 681.4 410C683.2 414.3 683.6 417.3 685 420C686.4 422.7 688.3 423.8 690 426C691.7 428.2 693.3 430.2 695 433C696.7 435.8 698.2 440 700 443C701.8 446 704.3 449 706 451C707.7 453 708.7 453.5 710 455C711.3 456.5 712.7 457.5 714 460C715.3 462.5 716.8 466.7 718 470C719.2 473.3 719.8 476.7 721 480C722.2 483.3 724 487.2 725 490C726 492.8 726.2 494.8 727 497C727.8 499.2 728.7 500.8 730 503C731.3 505.2 733.3 508 735 510C736.7 512 738.3 513.2 740 515C741.7 516.8 743.3 519.2 745 521C746.7 522.8 748.3 524.8 750 526C751.7 527.2 753.3 527.3 755 528C756.7 528.7 758.3 529 760 530C761.7 531 763.3 532.8 765 534C766.7 535.2 768.3 537 770 537.5C771.7 538 773.3 537.4 775 537C776.7 536.6 778.5 535.8 780 535C781.5 534.2 782.8 533.3 784 532C785.2 530.7 786 529 787 527C788 525 788.7 522.3 790 520C791.3 517.7 793.3 514.7 795 513C796.7 511.3 798.3 510.9 800 510C801.7 509.1 803.3 508 805 507.5C806.7 507 808.3 507.9 810 507C811.7 506.1 813.7 503 815 502C816.3 501 816.2 501.2 818 501C819.8 500.8 824.2 500.8 826 501C827.8 501.2 827.7 501.2 829 502C830.3 502.8 832.5 504.3 834 506C835.5 507.7 836.7 510 838 512C839.3 514 840.3 515.8 842 518C843.7 520.2 846.2 522.8 848 525C849.8 527.2 851.3 529.3 853 531C854.7 532.7 856.5 534.2 858 535C859.5 535.8 860.3 536 862 536C863.7 536 866 535.5 868 535C870 534.5 873 533.3 874 533" fill="none" stroke="#2062c4" stroke-width="1.6" stroke-linejoin="round" stroke-linecap="round"/>
<path d="M680 -10C681.2 -8.3 684.2 -3.8 687.1 0C690 3.8 692.8 7.3 697.1 12.8C701.4 18.3 707.1 24.9 712.8 32.8C718.5 40.6 724.7 50.1 731.4 59.9C738.1 69.7 746.4 82.2 752.8 91.3C759.2 100.3 765.4 108.2 769.9 114.2C774.4 120.2 775.6 122.5 779.9 127C784.2 131.5 789.4 135.4 795.6 141.3C801.8 147.2 810.8 156.5 817 162.7C823.2 168.9 827.7 172.7 832.7 178.4C837.7 184.1 842.6 192.2 846.9 196.9C851.2 201.7 854 204.1 858.4 206.9C862.8 209.7 871 212.4 873.5 213.5" fill="none" stroke="#bd5e0e" stroke-width="1.7" stroke-linejoin="round" stroke-linecap="round"/>
<g fill="none" stroke="#45e156" stroke-width="4.6" stroke-linecap="butt" stroke-linejoin="miter"><polyline points="1211.5,337.5 1199.5,349.5 1211.5,361.5"/><line x1="1200" y1="349.5" x2="1221.8" y2="349.5" stroke-linecap="round"/></g>
<g fill="none" stroke="#e41b5f" stroke-width="4.6" stroke-linecap="butt" stroke-linejoin="miter"><polyline points="1088.2,580 1075.4,592.6 1088.2,605.2"/><line x1="1076" y1="592.6" x2="1100.7" y2="592.6" stroke-linecap="butt"/></g>
<line x1="1547.5" y1="598" x2="1547.5" y2="645" stroke="#6e561c" stroke-width="1" stroke-dasharray="1,2"/>
<line x1="0" y1="778.5" x2="1548" y2="778.5" stroke="#2e2e2e" stroke-width="1"/>
<line x1="1548.5" y1="0" x2="1548.5" y2="806" stroke="#2e2e2e" stroke-width="1"/>
</svg>
<div class="title">PYTH / TetherUS · 1D · Binance</div>
<div class="pl" style="top:10px">0.1300</div>
<div class="pl" style="top:47.8px">0.1250</div>
<div class="pl" style="top:85.6px">0.1200</div>
<div class="pl" style="top:123.4px">0.1150</div>
<div class="pl" style="top:161.2px">0.1100</div>
<div class="pl" style="top:199px">0.1050</div>
<div class="pl" style="top:236.8px">0.1000</div>
<div class="pl" style="top:274.6px">0.0950</div>
<div class="pl" style="top:312.4px">0.0900</div>
<div class="pl" style="top:350.2px">0.0850</div>
<div class="pl" style="top:388px">0.0800</div>
<div class="pl" style="top:425.8px">0.0750</div>
<div class="pl" style="top:463.6px">0.0700</div>
<div class="pl" style="top:501.4px">0.0650</div>
<div class="pl" style="top:539.2px">0.0600</div>
<div class="pl" style="top:577px">0.0550</div>
<div class="pl" style="top:614.8px">0.0500</div>
<div class="pl" style="top:652.6px">0.0450</div>
<div class="pl" style="top:690.4px">0.0400</div>
<div class="pl" style="top:728.2px">0.0350</div>
<div class="pl" style="top:766px">0.0300</div>
<div class="yl">0.0840</div>
<div class="gl"><div class="g1">0.0644</div><div class="g2">03:55:28</div></div>
<div class="tl" style="left:9px">Aug</div>
<div class="tl" style="left:176px">Sep</div>
<div class="tl" style="left:384.5px">Oct</div>
<div class="tl" style="left:523px">Nov</div>
<div class="tl" style="left:635.5px">Dec</div>
<div class="tl b" style="left:743.8px">2026</div>
<div class="tl" style="left:860.5px">Feb</div>
<div class="tl" style="left:972.3px">Mar</div>
<div class="tl" style="left:1096px">Apr</div>
<div class="tl" style="left:1215px">May</div>
<div class="tl" style="left:1339px">Jun</div>
<div class="tl" style="left:1460px">Jul</div>
<svg class="logo" width="30" height="30" viewBox="0 0 30 30"><g fill="#d4d4d4" transform="translate(-1414,-765)"><polygon points="1428.9,766.2 1437.3,774.6 1434.3,777.6 1428.9,772.2 1423.5,777.6 1420.5,774.6"/><polygon points="1428.9,793.7 1437.3,785.3 1434.3,782.3 1428.9,787.7 1423.5,782.3 1420.5,785.3"/><polygon points="1429,777 1431.9,779.9 1429,782.8 1426.1,779.9"/><polygon points="1418.1,777 1421,779.9 1418.1,782.8 1415.2,779.9"/><polygon points="1439.8,777 1442.7,779.9 1439.8,782.8 1436.9,779.9"/></g></svg><div class="wat">@</div><div class="wt">Trisha_Saha</div>
</body></html>
